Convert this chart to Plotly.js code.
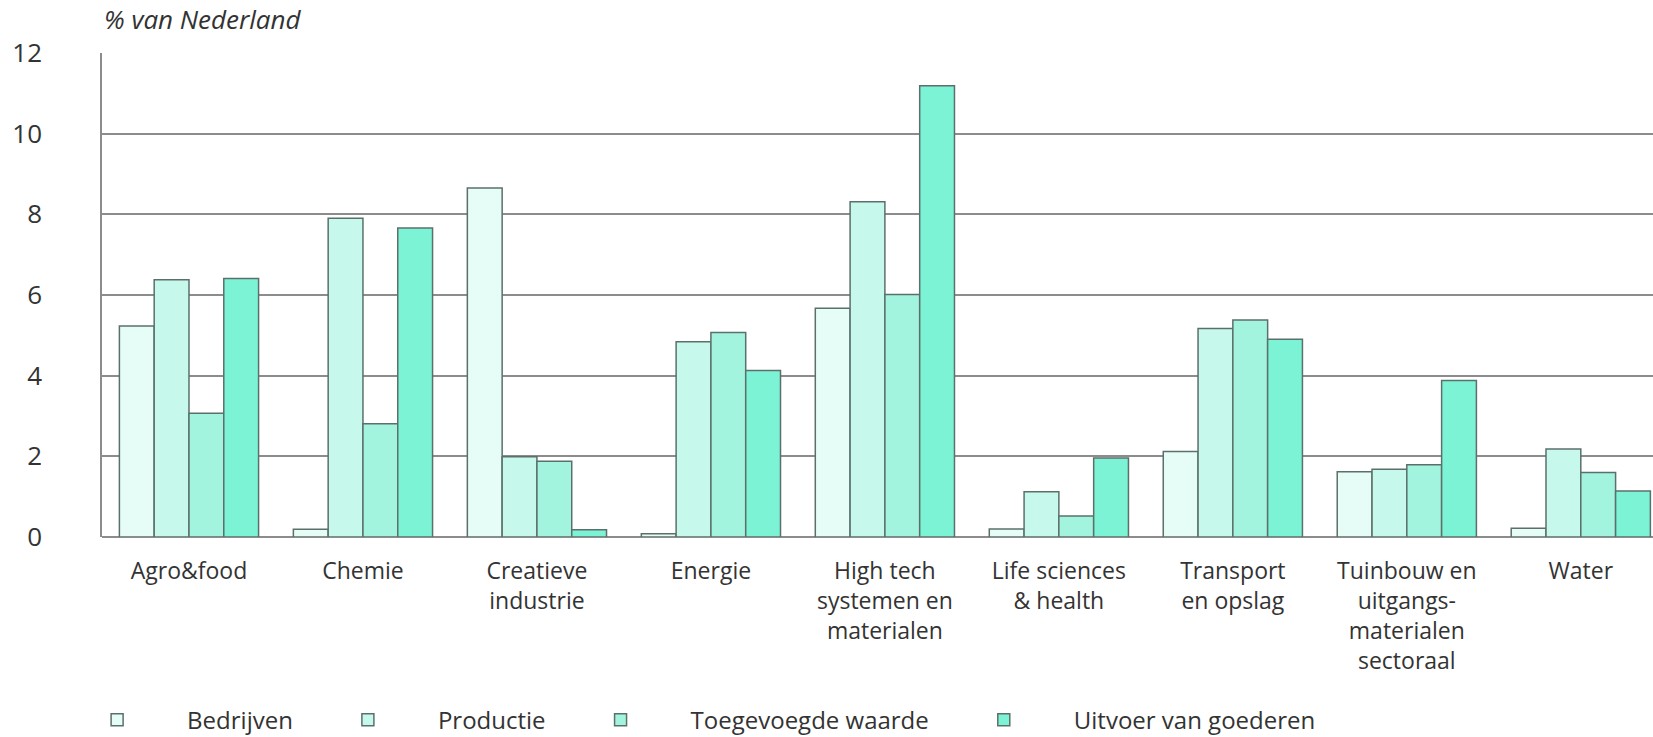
<!DOCTYPE html>
<html>
<head>
<meta charset="utf-8">
<script src="https://cdn.plot.ly/plotly-3.0.1.min.js"></script>
<style>html,body{margin:0;padding:0;background:#fff;}#chart{width:1653px;height:737px;}</style>
</head>
<body>
<div id="chart"></div>
<script>
const categories = [
  "Agro&food",
  "Chemie",
  "Creatieve<br>industrie",
  "Energie",
  "High tech<br>systemen en<br>materialen",
  "Life sciences<br>& health",
  "Transport<br>en opslag",
  "Tuinbouw en<br>uitgangs-<br>materialen<br>sectoraal",
  "Water"
];
const bedrijven = [5.23, 0.19, 8.65, 0.08, 5.67, 0.2, 2.12, 1.62, 0.22];
const productie = [6.38, 7.9, 1.99, 4.84, 8.31, 1.12, 5.17, 1.68, 2.18];
const toegevoegd = [3.07, 2.81, 1.88, 5.07, 6.01, 0.52, 5.38, 1.79, 1.6];
const uitvoer = [6.41, 7.66, 0.18, 4.13, 11.19, 1.96, 4.9, 3.88, 1.14];
const seriesNames = ["Bedrijven", "Productie", "Toegevoegde waarde", "Uitvoer van goederen"];
const seriesColors = ["#e6fdf7", "#c6f9ec", "#a3f4de", "#7cf3d4"];
const yTicks = [0, 2, 4, 6, 8, 10, 12];

const font = "'Open Sans', 'Noto Sans', sans-serif";
const values = [bedrijven, productie, toegevoegd, uitvoer];
const xIdx = categories.map((c, i) => i);
const traces = values.map((v, k) => ({
  type: "bar",
  name: seriesNames[k],
  x: xIdx,
  y: v,
  marker: {color: seriesColors[k], line: {color: "#5c706b", width: 1.5}},
  hoverinfo: "x+y+name"
}));

const layout = {
  width: 1653,
  height: 737,
  margin: {l: 102, r: 0, t: 53, b: 200},
  paper_bgcolor: "#ffffff",
  plot_bgcolor: "#ffffff",
  barmode: "group",
  bargap: 0.2,
  bargroupgap: 0,
  font: {family: font, color: "#333333", size: 23},
  xaxis: {
    range: [-0.5, 8.415],
    tickmode: "array",
    tickvals: xIdx,
    ticktext: categories,
    showgrid: false,
    showline: false,
    zeroline: false,
    ticks: "",
    automargin: false,
    tickfont: {size: 23, color: "#333333"},
    ticklabelstandoff: 18
  },
  yaxis: {
    range: [0, 12],
    tickmode: "array",
    tickvals: yTicks,
    showgrid: true,
    gridcolor: "#8c8c8c",
    gridwidth: 1.5,
    zeroline: true,
    zerolinecolor: "#8c8c8c",
    zerolinewidth: 1.5,
    showline: true,
    linecolor: "#8c8c8c",
    linewidth: 1.5,
    ticks: "",
    automargin: false,
    tickfont: {size: 26, color: "#333333"},
    ticklabelstandoff: 53
  },
  legend: {
    orientation: "h",
    xref: "container",
    yref: "container",
    x: 0.0285,
    xanchor: "left",
    y: 0.023,
    yanchor: "middle",
    font: {size: 24, color: "#333333"},
    itemwidth: 130,
    traceorder: "normal"
  },
  annotations: [{
    text: "<i>% van Nederland</i>",
    xref: "paper", yref: "paper",
    x: 0, y: 1, xanchor: "left", yanchor: "bottom",
    yshift: 14,
    showarrow: false,
    font: {size: 26, color: "#333333"}
  }]
};

Plotly.newPlot("chart", traces, layout, {displayModeBar: false, responsive: false});
</script>
</body>
</html>
